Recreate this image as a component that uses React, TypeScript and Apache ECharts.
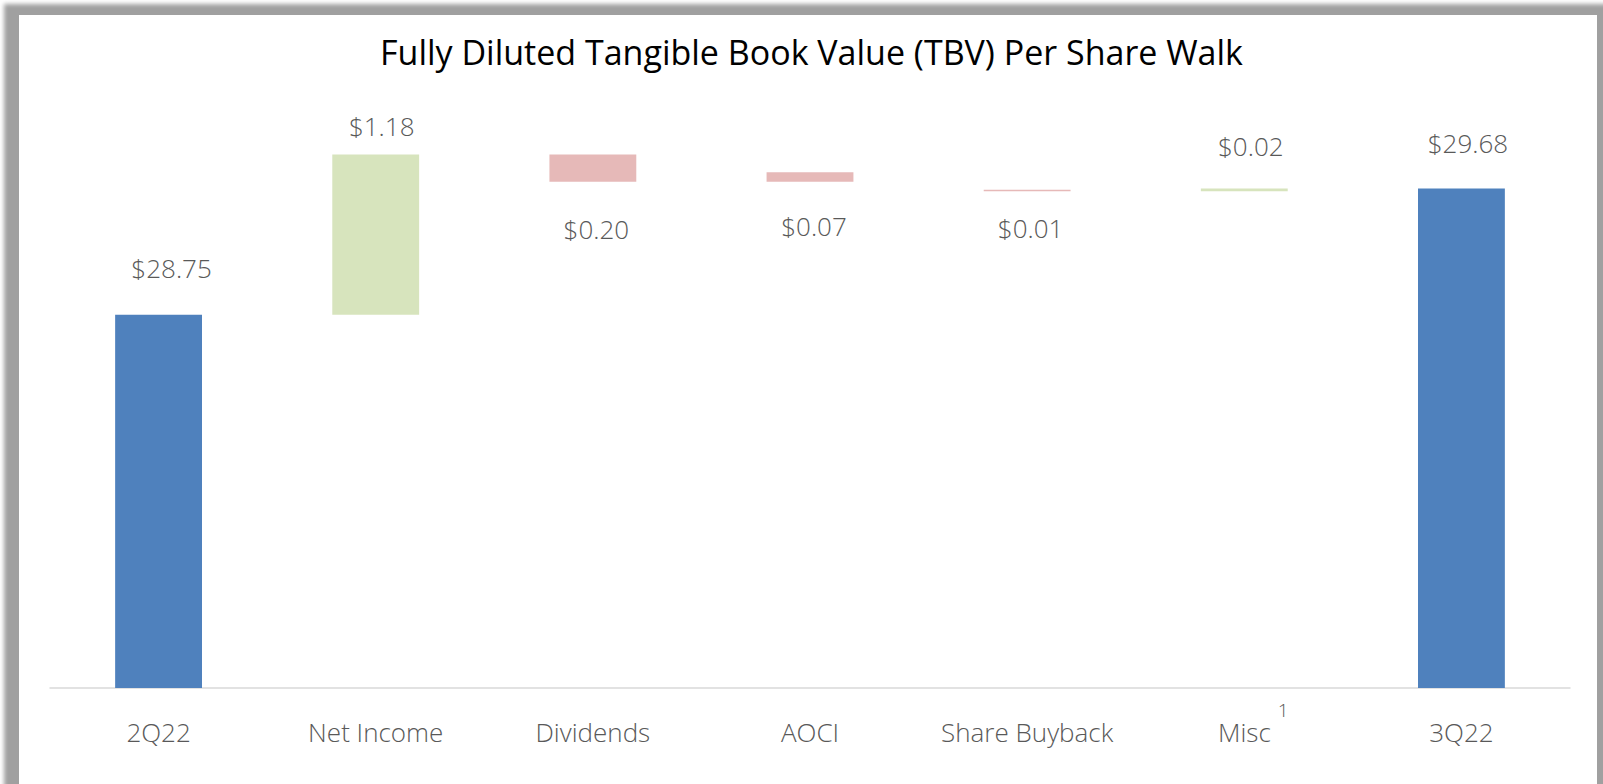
import React, { useEffect, useRef } from "react";
import * as echarts from "echarts";

const categories = ["2Q22", "Net Income", "Dividends", "AOCI", "Share Buyback", "Misc", "3Q22"];
// signed change per step (totals for first and last)
const changes = [28.75, 1.18, -0.2, -0.07, -0.01, 0.02, 29.68];
// bottom of each floating bar as drawn in the reference
const barBase = [0, 28.75, 29.73, 29.73, 29.66, 29.66, 0];
const kinds = ["total", "up", "down", "down", "down", "up", "total"];

const colors: Record<string, string> = {
  total: "#4f81bd",
  up: "#d7e4bd",
  down: "#e6b9b8",
};

// label tweaks: [distance, dx]
const labelTweaks: [number, number][] = [
  [34, 13],
  [16, 6],
  [34, 3.5],
  [31, 4],
  [24, 3.5],
  [29, 6.5],
  [32, 6.5],
];

const FONT = "'Open Sans', 'Noto Sans', sans-serif";

export default function App() {
  const ref = useRef<HTMLDivElement>(null);
  useEffect(() => {
    if (!ref.current) return;
    const chart = echarts.init(ref.current, undefined, { renderer: "svg" });
    const visible = changes.map((c, i) => ({
      value: Math.abs(c),
      itemStyle: { color: colors[kinds[i]] },
      label: {
        show: true,
        position: kinds[i] === "down" ? "bottom" : "top",
        distance: labelTweaks[i][0],
        offset: [labelTweaks[i][1], 0],
        formatter: "$" + Math.abs(c).toFixed(2),
        fontFamily: FONT,
        fontWeight: 300,
        fontSize: 26,
        lineHeight: 26,
        color: "#595959",
      },
    }));
    chart.setOption({
      animation: false,
      backgroundColor: "transparent",
      title: {
        text: "Fully Diluted Tangible Book Value (TBV) Per Share Walk",
        left: 375,
        top: 30,
        textStyle: {
          fontFamily: FONT,
          fontWeight: 400,
          fontSize: 34,
          color: "#000000",
        },
      },
      grid: { left: 50, right: 33, top: 145, bottom: 96, containLabel: false },
      xAxis: {
        type: "category",
        data: categories,
        axisTick: { show: false },
        axisLine: { lineStyle: { color: "#d9d9d9", width: 1.5 } },
        axisLabel: {
          margin: 12,
          interval: 0,
          formatter: (v: string) => (v === "Misc" ? `{p|}{a|${v}}{s|1}` : `{a|${v}}`),
          rich: {
            a: {
              fontFamily: FONT,
              fontWeight: 300,
              fontSize: 26,
              lineHeight: 26,
              color: "#595959",
              padding: [19, 0, 0, 0],
              verticalAlign: "top",
            },
            p: { width: 18, height: 45 },
            s: {
              fontFamily: FONT,
              fontWeight: 300,
              fontSize: 19,
              lineHeight: 19,
              color: "#595959",
              padding: [0, 0, 28, 7],
              verticalAlign: "top",
            },
          },
        },
      },
      yAxis: {
        type: "value",
        min: 26,
        max: 30,
        show: false,
        splitLine: { show: false },
      },
      series: [
        {
          type: "bar",
          stack: "w",
          data: barBase,
          itemStyle: { color: "transparent" },
          barWidth: "40%",
          silent: true,
          clip: true,
        },
        {
          type: "bar",
          stack: "w",
          data: visible,
          barWidth: "40%",
          clip: true,
        },
      ],
    });
    return () => chart.dispose();
  }, []);

  return (
    <div
      style={{
        position: "absolute",
        left: 0,
        top: 0,
        width: 1603,
        height: 784,
        overflow: "hidden",
        background: "#ffffff",
      }}
    >
      <div
        style={{
          position: "absolute",
          left: 4,
          top: 4,
          width: 1620,
          height: 820,
          background: "#a0a0a0",
          filter: "blur(2px)",
        }}
      />
      <div
        style={{
          position: "absolute",
          left: 19,
          top: 15,
          width: 1578,
          height: 800,
          background: "#ffffff",
        }}
      />
      <div ref={ref} style={{ position: "absolute", left: 0, top: 0, width: 1603, height: 784 }} />
    </div>
  );
}
